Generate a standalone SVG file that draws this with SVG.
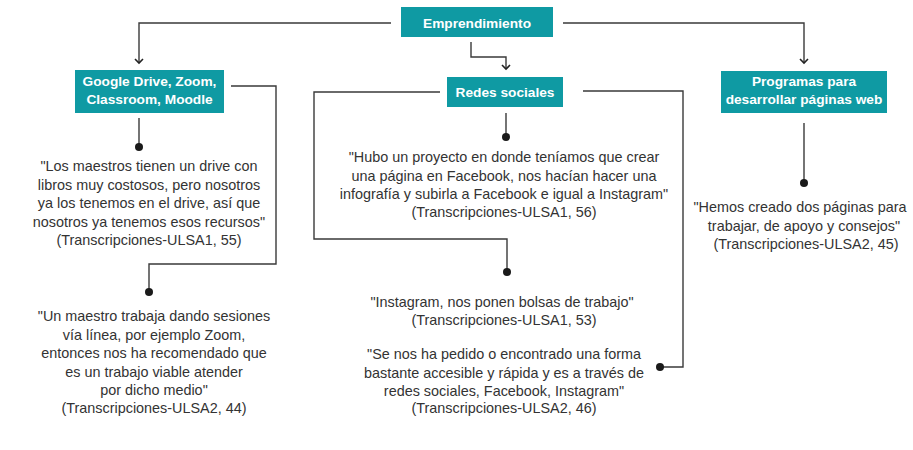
<svg xmlns="http://www.w3.org/2000/svg" width="913" height="450" viewBox="0 0 913 450">
<defs>
<style>
.box{fill:#0f9aa3}
.bt{font-family:"Liberation Sans",Arial,sans-serif;font-weight:bold;font-size:13.7px;fill:#fff;text-anchor:middle}
.q{font-family:"Liberation Sans",Arial,sans-serif;font-size:14.4px;fill:#333;text-anchor:middle}
.c{fill:none;stroke:#3a3a3a;stroke-width:1.4}
.dot{fill:#1a1a1a}
</style>
<marker id="arr" markerWidth="10" markerHeight="12" refX="7" refY="6" orient="auto" markerUnits="userSpaceOnUse" viewBox="0 0 10 12">
<path d="M3,2 L7,6 L3,10" fill="none" stroke="#222" stroke-width="1.6"/>
</marker>
</defs>
<rect width="913" height="450" fill="#fff"/>
<g id="connectors">
<path class="c" d="M391,23 H139 V63" marker-end="url(#arr)"/>
<path class="c" d="M563,23 H804 V63" marker-end="url(#arr)"/>
<path class="c" d="M471,42 V57 H506 V69" marker-end="url(#arr)"/>
<path class="c" d="M139,118 V147"/>
<circle class="dot" cx="139" cy="147" r="4"/>
<path class="c" d="M231,86 H276 V264 H149 V292"/>
<circle class="dot" cx="149" cy="292" r="4"/>
<path class="c" d="M506,113 V137"/>
<circle class="dot" cx="506" cy="137" r="4"/>
<path class="c" d="M440,92 H314 V239 H507 V272"/>
<circle class="dot" cx="507" cy="272" r="4"/>
<path class="c" d="M583,91 H683 V367 H660"/>
<circle class="dot" cx="660" cy="367" r="4"/>
<path class="c" d="M804,123 V183"/>
<circle class="dot" cx="804" cy="183" r="4"/>
</g>
<g id="emprendimiento">
<rect class="box" x="401" y="7" width="152" height="30"/>
<text class="bt" x="477" y="27.5">Emprendimiento</text>
</g>
<g id="google">
<rect class="box" x="75" y="70" width="149" height="43"/>
<text class="bt" x="149.5" y="86">Google Drive, Zoom,</text>
<text class="bt" x="149.5" y="104">Classroom, Moodle</text>
</g>
<g id="redes">
<rect class="box" x="447" y="77" width="116" height="30"/>
<text class="bt" x="505" y="97">Redes sociales</text>
</g>
<g id="programas">
<rect class="box" x="721" y="71" width="166" height="42"/>
<text class="bt" x="804" y="86">Programas para</text>
<text class="bt" x="804" y="104">desarrollar páginas web</text>
</g>
<g id="quote-google-1">
<text class="q" x="149" y="171">"Los maestros tienen un drive con</text>
<text class="q" x="149" y="189.5">libros muy costosos, pero nosotros</text>
<text class="q" x="149" y="208">ya los tenemos en el drive, así que</text>
<text class="q" x="149" y="226.5">nosotros ya tenemos esos recursos"</text>
<text class="q" x="149" y="245">(Transcripciones-ULSA1, 55)</text>
</g>
<g id="quote-google-2">
<text class="q" x="154" y="321">"Un maestro trabaja dando sesiones</text>
<text class="q" x="154" y="339.5">vía línea, por ejemplo Zoom,</text>
<text class="q" x="154" y="358">entonces nos ha recomendado que</text>
<text class="q" x="154" y="376.5">es un trabajo viable atender</text>
<text class="q" x="154" y="395">por dicho medio"</text>
<text class="q" x="154" y="413">(Transcripciones-ULSA2, 44)</text>
</g>
<g id="quote-redes-1">
<text class="q" x="504" y="162">"Hubo un proyecto en donde teníamos que crear</text>
<text class="q" x="504" y="180.5">una página en Facebook, nos hacían hacer una</text>
<text class="q" x="504" y="199">infografía y subirla a Facebook e igual a Instagram"</text>
<text class="q" x="504" y="217">(Transcripciones-ULSA1, 56)</text>
</g>
<g id="quote-redes-2">
<text class="q" x="502" y="307">"Instagram, nos ponen bolsas de trabajo"</text>
<text class="q" x="504" y="325">(Transcripciones-ULSA1, 53)</text>
</g>
<g id="quote-redes-3">
<text class="q" x="504" y="359">"Se nos ha pedido o encontrado una forma</text>
<text class="q" x="504" y="378">bastante accesible y rápida y es a través de</text>
<text class="q" x="504" y="396">redes sociales, Facebook, Instagram"</text>
<text class="q" x="504" y="413">(Transcripciones-ULSA2, 46)</text>
</g>
<g id="quote-programas">
<text class="q" x="800" y="212">"Hemos creado dos páginas para</text>
<text class="q" x="804" y="231">trabajar, de apoyo y consejos"</text>
<text class="q" x="806" y="249">(Transcripciones-ULSA2, 45)</text>
</g>
</svg>
